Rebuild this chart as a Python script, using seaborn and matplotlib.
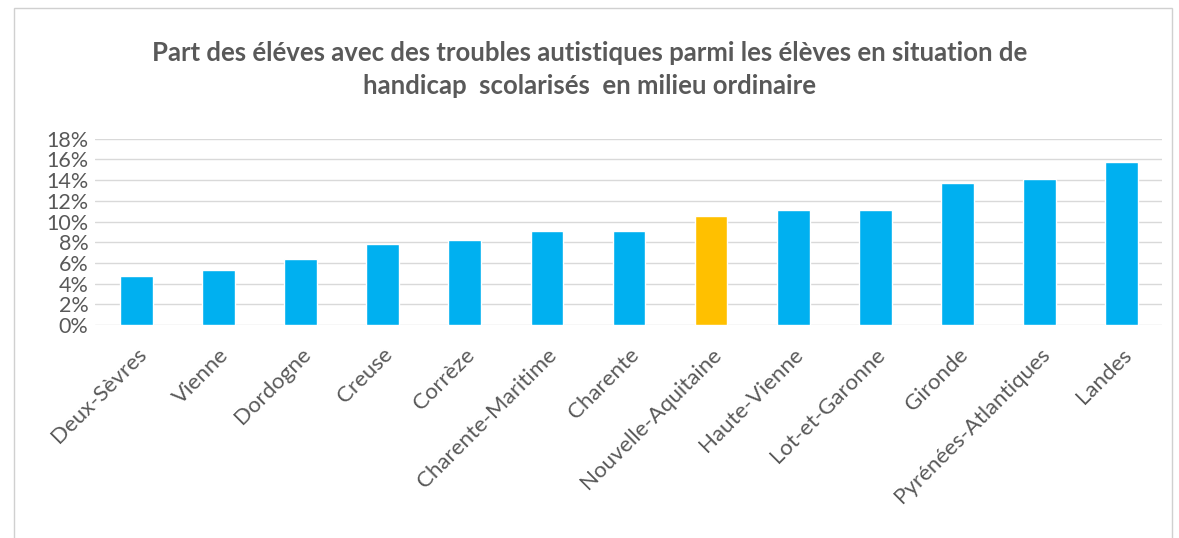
import matplotlib
matplotlib.use("Agg")
import matplotlib.pyplot as plt
import seaborn as sns
import pandas as pd
from matplotlib.ticker import PercentFormatter, MultipleLocator
from matplotlib.patches import Rectangle

categories = ["Deux-Sèvres", "Vienne", "Dordogne", "Creuse", "Corrèze",
              "Charente-Maritime", "Charente", "Nouvelle-Aquitaine",
              "Haute-Vienne", "Lot-et-Garonne", "Gironde",
              "Pyrénées-Atlantiques", "Landes"]
values = [4.7, 5.3, 6.35, 7.85, 8.25, 9.05, 9.05, 10.5,
          11.15, 11.15, 13.7, 14.1, 15.75]
highlight = "Nouvelle-Aquitaine"
title = ("Part des éléves avec des troubles autistiques parmi les élèves en situation de\n"
         "handicap  scolarisés  en milieu ordinaire")

df = pd.DataFrame({"cat": categories, "val": values})
palette = {c: ("#FFC000" if c == highlight else "#00B0F0") for c in categories}

sns.set_theme(style="white")
plt.rcParams['font.family'] = ['Lato', 'DejaVu Sans']

fig = plt.figure(figsize=(11.79, 5.38), dpi=100)
ax = fig.add_axes([0.081, 0.396, 0.905, 0.346])

sns.barplot(data=df, x="cat", y="val", hue="cat", palette=palette,
            legend=False, width=0.4, ax=ax, saturation=1)

ax.set_ylim(0, 18)
ax.set_xlim(-0.5, len(categories) - 0.5)
ax.yaxis.set_major_locator(MultipleLocator(2))
ax.yaxis.set_major_formatter(PercentFormatter(decimals=0))
ax.grid(axis="y", color="#d9d9d9", linewidth=1)
ax.set_axisbelow(True)
for s in ax.spines.values():
    s.set_visible(False)
ax.set_xlabel("")
ax.set_ylabel("")
ax.tick_params(axis="y", labelsize=15.5, labelcolor="#595959", length=0, pad=5)
ax.tick_params(axis="x", labelsize=16, labelcolor="#595959", length=0, pad=14)
for lab in ax.get_xticklabels():
    lab.set_rotation(45)
    lab.set_ha("right")
    lab.set_rotation_mode("anchor")

fig.text(0.5, 0.870, title, ha="center", va="center", fontsize=18.5,
         fontweight="bold", color="#595959", linespacing=1.45)

fig.patches.append(Rectangle((14/1179, -0.05), (1172-14)/1179, 1 - 8/538 + 0.05,
                             transform=fig.transFigure, fill=False,
                             edgecolor="#d0d0d0", linewidth=1))

fig.savefig("out.png", dpi=100)
